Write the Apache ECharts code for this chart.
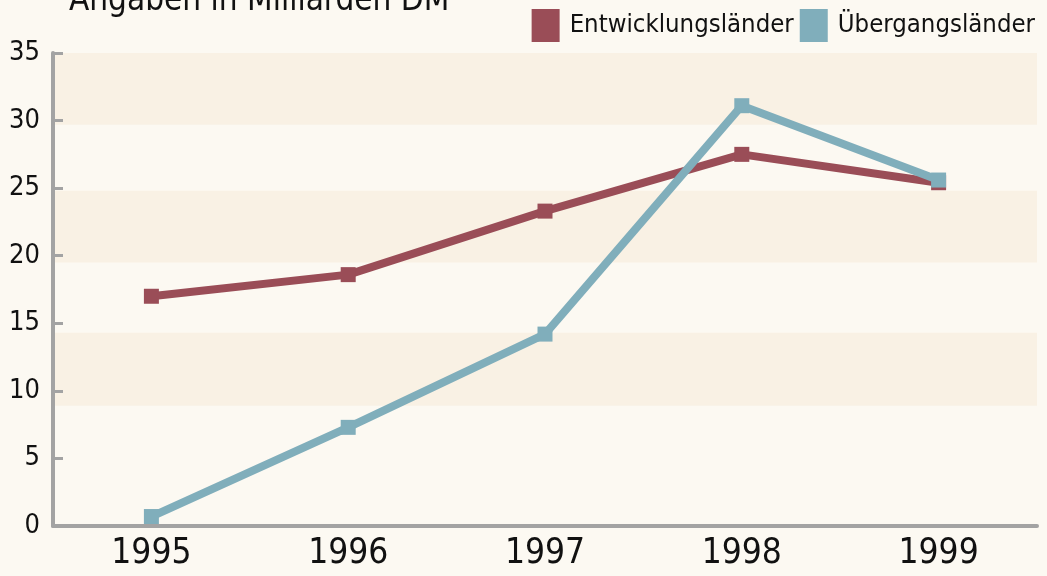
<!DOCTYPE html>
<html><head><meta charset="utf-8">
<script src="https://cdn.jsdelivr.net/npm/echarts@6/dist/echarts.min.js"></script>
<style>html,body{margin:0;padding:0;background:#fcf9f2;}#c{width:1047px;height:576px;}</style>
</head><body><div id="c"></div>
<script>
const years = ['1995','1996','1997','1998','1999'];
const entwicklung = [17.0, 18.6, 23.3, 27.5, 25.4];
const uebergang = [0.7, 7.3, 14.2, 31.1, 25.6];
const yTicks = [0, 5, 10, 15, 20, 25, 30, 35];
const bands = [[29.7, 35], [19.5, 24.8], [8.9, 14.3]];
const FONT = '"DejaVu Sans Condensed","Liberation Sans Narrow","Open Sans",sans-serif';
const chart = echarts.init(document.getElementById('c'));
chart.setOption({
  backgroundColor: '#fcf9f2',
  animation: false,
  title: {text: 'Angaben in Milliarden DM', left: 64, top: -20,
    textStyle: {fontFamily: FONT, fontSize: 33, fontWeight: 'normal', color: '#111'}},
  legend: {right: 7, top: 4, itemWidth: 28, itemHeight: 33, itemGap: 6, icon: 'rect',
    textStyle: {fontFamily: FONT, fontSize: 25.5, color: '#111', padding: [0,0,0,5]},
    data: ['Entwicklungsländer', 'Übergangsländer']},
  grid: {left: 53, right: 10, top: 53, bottom: 50},
  xAxis: {type: 'category', data: years, boundaryGap: true, z: 10,
    axisLine: {lineStyle: {color: '#a3a3a3', width: 4}},
    axisTick: {inside: true, length: 10, lineStyle: {color: '#a3a3a3', width: 3}},
    axisLabel: {fontFamily: FONT, fontSize: 35, color: '#111', margin: 10}},
  yAxis: {type: 'value', min: yTicks[0], max: yTicks[yTicks.length-1], interval: 5, z: 10,
    axisLine: {show: true, lineStyle: {color: '#a3a3a3', width: 4}},
    axisTick: {show: true, inside: true, length: 10, lineStyle: {color: '#a3a3a3', width: 3}},
    splitLine: {show: false},
    axisLabel: {fontFamily: FONT, fontSize: 27, color: '#111', margin: 13}},
  series: [
    {name: 'Entwicklungsländer', type: 'line', data: entwicklung, color: '#9a4d57', z: 3,
     symbol: 'rect', symbolSize: 15, lineStyle: {width: 8, color: '#9a4d57'},
     itemStyle: {color: '#9a4d57'},
     markArea: {silent: true, z: 1, itemStyle: {color: '#f9f1e4'},
       data: bands.map(b => [{yAxis: b[0]}, {yAxis: b[1]}])}},
    {name: 'Übergangsländer', type: 'line', data: uebergang, color: '#80aebb', z: 4,
     symbol: 'rect', symbolSize: 15, lineStyle: {width: 8, color: '#80aebb'},
     itemStyle: {color: '#80aebb'}}
  ]
});
</script></body></html>
